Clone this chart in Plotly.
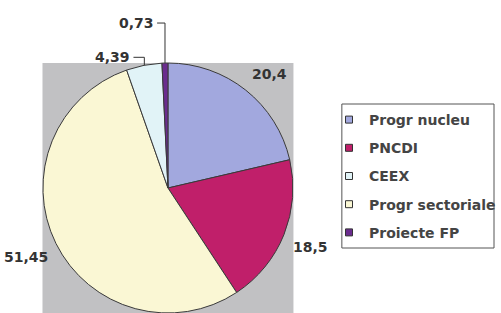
import math
import plotly.graph_objects as go

# ---- data ----
slice_labels = ["Progr nucleu", "PNCDI", "Progr sectoriale", "CEEX", "Proiecte FP"]
slice_values = [20.4, 18.5, 51.45, 4.39, 0.73]
slice_colors = ["#a2a8de", "#c01f6a", "#faf7d4", "#e1f3f7", "#6a2c8e"]
legend_order = ["Progr nucleu", "PNCDI", "CEEX", "Progr sectoriale", "Proiecte FP"]

# ---- layout constants (pixels) ----
W, H = 501, 313
PIE_X0, PIE_X1 = 43, 297      # plot-area (gray) left/right
PIE_TOP = 63                  # top of plot area
R = 125                       # pie radius in px
CX = (PIE_X0 + PIE_X1) / 2
CY = PIE_TOP + R
FONT = dict(family="DejaVu Sans", size=14, color="#333333", weight="bold")

def px(x):
    return x / W

def py(y):
    return 1 - y / H

def fmt(v):
    return ("%g" % v).replace(".", ",")

fig = go.Figure()

fig.add_trace(go.Pie(
    labels=slice_labels,
    values=slice_values,
    sort=False,
    direction="clockwise",
    rotation=0,
    marker=dict(colors=slice_colors, line=dict(color="#3a3a3a", width=1)),
    textinfo="none",
    hoverinfo="label+value",
    showlegend=False,
    domain=dict(x=[px(PIE_X0), px(PIE_X1)], y=[0, py(PIE_TOP)]),
))

# legend entries (in the legend's own order)
color_of = dict(zip(slice_labels, slice_colors))
for i, name in enumerate(legend_order):
    fig.add_trace(go.Scatter(
        x=[None], y=[None], mode="markers", name=name,
        legendgroup="g%d" % i,
        marker=dict(symbol="square", size=7, color=color_of[name],
                    line=dict(color="#333333", width=1)),
    ))

# ---- data labels computed from slice angles ----
total = sum(slice_values)
annotations = []
shapes = [
    dict(type="rect", xref="paper", yref="paper", layer="below",
         x0=px(PIE_X0), x1=px(PIE_X1), y0=-0.05, y1=py(PIE_TOP),
         fillcolor="#c1c1c3", line=dict(width=0)),
    dict(type="rect", xref="paper", yref="paper", layer="below",
         x0=px(346), x1=px(500), y0=py(248), y1=py(104),
         fillcolor="white", line=dict(color="#555555", width=1)),
]
leader = {"CEEX": (8, 11), "Proiecte FP": (40, 8)}  # (rise px, horizontal px)
cum = 0.0
for lab, v in zip(slice_labels, slice_values):
    mid = (cum + v / 2) / total * 2 * math.pi
    cum += v
    s, c = math.sin(mid), -math.cos(mid)
    if lab in leader:
        rise, hl = leader[lab]
        ax, ay = CX + R * s, CY + R * c
        ty = ay - rise
        shapes.append(dict(type="path", xref="paper", yref="paper",
                           path="M %f %f L %f %f L %f %f" % (
                               px(ax), py(ay), px(ax), py(ty), px(ax - hl), py(ty)),
                           line=dict(color="#333333", width=1)))
        annotations.append(dict(x=px(ax - hl - 1), y=py(ty), xref="paper", yref="paper",
                                text=fmt(v), showarrow=False, xanchor="right",
                                yanchor="middle", font=FONT))
    else:
        lx, ly = CX + 1.07 * R * s, CY + 1.06 * R * c
        annotations.append(dict(x=px(lx), y=py(ly), xref="paper", yref="paper",
                                text=fmt(v), showarrow=False,
                                xanchor="left" if s > 0 else "right",
                                yanchor="bottom" if c < 0 else "top",
                                font=FONT))

fig.update_layout(
    width=W, height=H,
    margin=dict(l=0, r=0, t=0, b=0),
    paper_bgcolor="white", plot_bgcolor="rgba(0,0,0,0)",
    xaxis=dict(visible=False), yaxis=dict(visible=False),
    showlegend=True,
    legend=dict(x=px(333), y=py(104), xanchor="left", yanchor="top",
                bgcolor="rgba(0,0,0,0)", borderwidth=0,
                font=dict(family="DejaVu Sans", size=14, color="#444444", weight="bold"),
                tracegroupgap=7, itemclick=False, itemdoubleclick=False),
    shapes=shapes,
    annotations=annotations,
)

fig.write_html("out.html", config={"displayModeBar": False},
               post_script="document.body.style.margin='0';")
